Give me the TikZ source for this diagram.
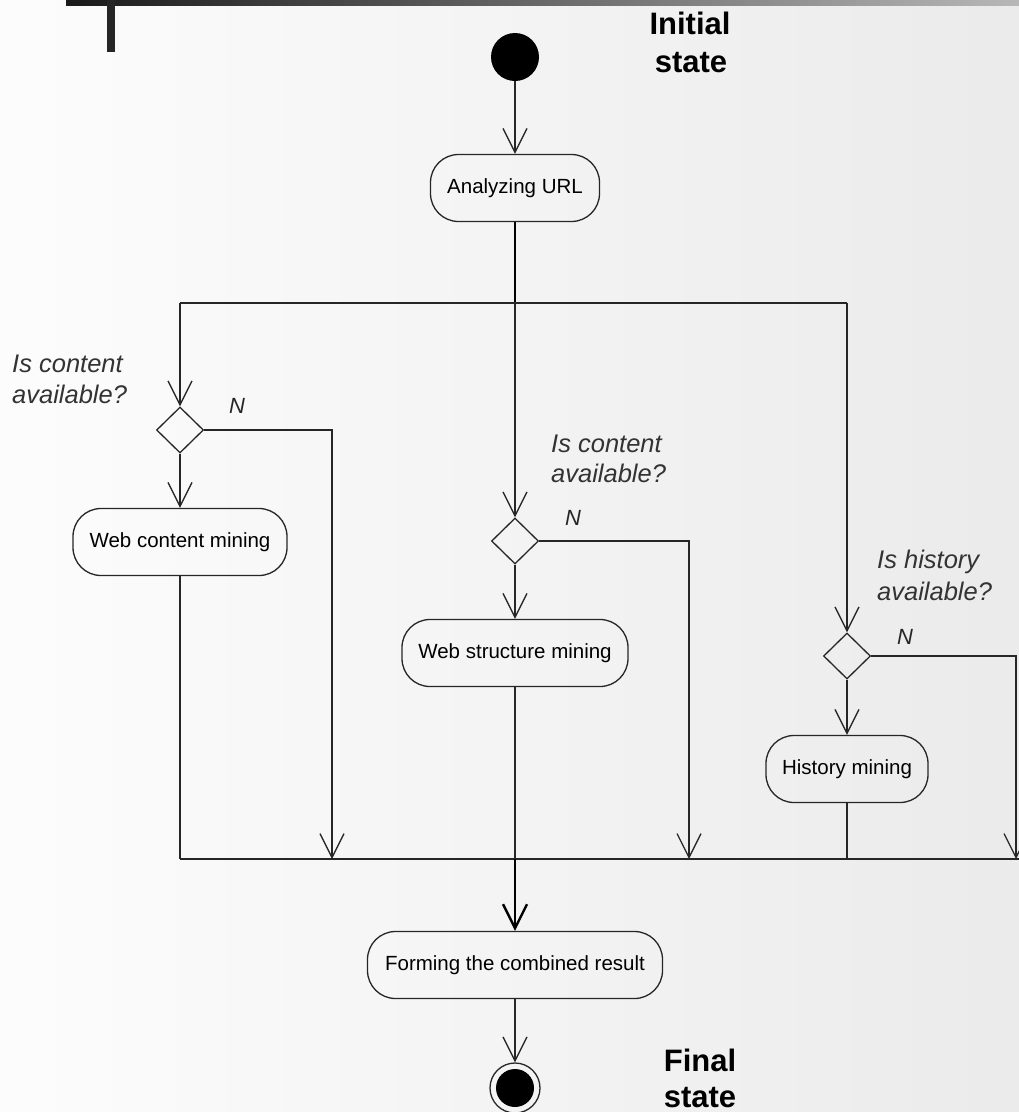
\documentclass[tikz,border=0pt]{standalone}
\usepackage{fontspec}
\setmainfont{Liberation Sans}
\usetikzlibrary{arrows.meta,shapes.geometric}
\begin{document}
\begin{tikzpicture}[x=1pt,y=-1pt,
  flow/.style={line width=1.3pt, draw=black!85},
  thickflow/.style={line width=2.4pt, draw=black},
  arr/.style={-{Straight Barb[length=24pt,width=24pt]}},
  activity/.style={draw=black!85, line width=1.3pt, rectangle, rounded corners=28pt,
    minimum height=67pt, inner sep=0pt, font=\fontsize{20.5}{24}\selectfont},
  decision/.style={draw=black!85, line width=1.3pt, diamond, minimum width=47pt,
    minimum height=46pt, inner sep=0pt, aspect=1},
  qlabel/.style={anchor=base west, inner sep=0pt,
    font=\fontsize{25.5}{31}\selectfont\itshape, text=black!80},
  nlabel/.style={inner sep=0pt, font=\fontsize{22}{26}\selectfont\itshape, text=black!85},
  statelabel/.style={anchor=base, inner sep=0pt, font=\fontsize{31}{37}\selectfont\bfseries},
]
% page and background
\useasboundingbox (0,0) rectangle (1019,1112);
\shade[left color=black!1, right color=black!8] (0,0) rectangle (1019,1112);
% header bar
\shade[left color=black!90, right color=black!28] (66,0) rectangle (1019,5);
\fill[black!85] (107,0) rectangle (115,52);

% states and activities
\node[circle, fill=black, minimum size=48pt, inner sep=0pt] (init) at (515,57) {};
\node[activity, minimum width=169pt] (anl) at (515,188) {Analyzing URL};
\node[decision] (d1) at (180,430) {};
\node[activity, minimum width=214pt] (wcm) at (180,542) {Web content mining};
\node[decision] (d2) at (515,541) {};
\node[activity, minimum width=226pt] (wsm) at (515,653) {Web structure mining};
\node[decision] (d3) at (847,656) {};
\node[activity, minimum width=162pt] (hm) at (847,769) {History mining};
\node[activity, minimum width=295pt] (form) at (515,965) {Forming the combined result};
\node[circle, draw=black!85, line width=1.3pt, minimum size=50pt, inner sep=0pt] (fin) at (515,1088) {};
\fill[black] (fin.center) circle (19pt);

% fork and join points
\coordinate (split) at (515,303);
\coordinate (sl) at (180,303);
\coordinate (sr) at (847,303);
\coordinate (jl) at (180,859);
\coordinate (j1) at (332,859);
\coordinate (jm) at (515,859);
\coordinate (j2) at (689,859);
\coordinate (jh) at (847,859);
\coordinate (j3) at (1016,859);
\coordinate (jr) at (1019,859);

% connectors
\draw[flow,arr] (init) -- (anl);
\draw[thickflow] (anl) -- (split);
\draw[flow] (sl) -- (sr);
\draw[flow,arr] (sl) -- (d1);
\draw[flow,arr] (split) -- (d2);
\draw[flow,arr] (sr) -- (d3);
\draw[flow,arr] (d1) -- (wcm);
\draw[flow,arr] (d2) -- (wsm);
\draw[flow,arr] (d3) -- (hm);
\draw[flow,arr] (d1.east) -| (j1);
\draw[flow,arr] (d2.east) -| (j2);
\draw[flow,arr] (d3.east) -| (j3);
\draw[flow] (wcm) -- (jl);
\draw[flow] (wsm) -- (jm);
\draw[flow] (hm) -- (jh);
\draw[flow] (jl) -- (jr);
\draw[thickflow,arr] (jm) -- (form);
\draw[flow,arr] (form) -- (fin);

% guard questions
\node[qlabel] (q1a) at (12,372) {Is content};
\node[qlabel] (q1b) at (12,403) {available?};
\node[qlabel] (q2a) at (551,452) {Is content};
\node[qlabel] (q2b) at (551,482) {available?};
\node[qlabel] (q3a) at (877,568) {Is history};
\node[qlabel] (q3b) at (877,600) {available?};
\node[nlabel] (n1) at (237,406) {N};
\node[nlabel] (n2) at (573,518) {N};
\node[nlabel] (n3) at (905,637) {N};

% state captions
\node[statelabel] (ini1) at (690,34) {Initial};
\node[statelabel] (ini2) at (691,72) {state};
\node[statelabel] (fin1) at (700,1071) {Final};
\node[statelabel] (fin2) at (700,1107) {state};
\end{tikzpicture}
\end{document}
